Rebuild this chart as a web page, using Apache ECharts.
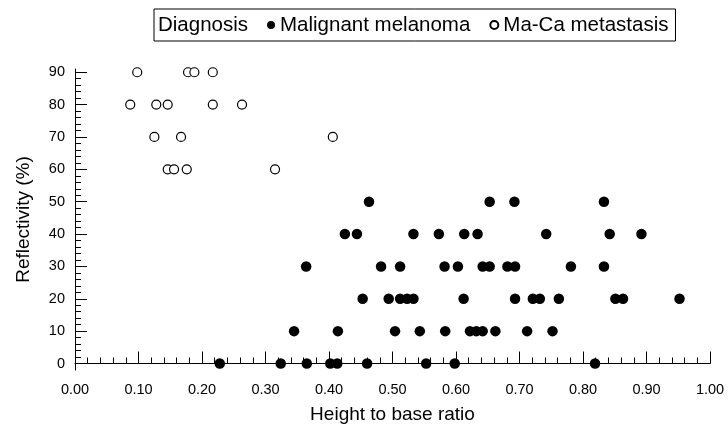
<!DOCTYPE html>
<html>
<head>
<meta charset="utf-8">
<script src="https://cdn.jsdelivr.net/npm/echarts@6/dist/echarts.min.js"></script>
<style>html,body{margin:0;padding:0;background:#fff;}#c{width:728px;height:429px;}</style>
</head>
<body>
<div id="c"></div>
<script>
// Malignant melanoma (filled circles)
const melanomaX = [
  0.463, 0.653, 0.692, 0.833,
  0.425, 0.444, 0.533, 0.573, 0.613, 0.634, 0.742, 0.842, 0.892,
  0.364, 0.482, 0.512, 0.582, 0.603, 0.642, 0.653, 0.681, 0.693, 0.781, 0.833,
  0.453, 0.494, 0.512, 0.523, 0.533, 0.612, 0.693, 0.721, 0.732, 0.762, 0.851, 0.863, 0.952,
  0.345, 0.414, 0.504, 0.543, 0.583, 0.622, 0.632, 0.642, 0.662, 0.712, 0.752,
  0.228, 0.324, 0.365, 0.402, 0.413, 0.460, 0.553, 0.598, 0.819
];
const melanomaY = [
  50, 50, 50, 50,
  40, 40, 40, 40, 40, 40, 40, 40, 40,
  30, 30, 30, 30, 30, 30, 30, 30, 30, 30, 30,
  20, 20, 20, 20, 20, 20, 20, 20, 20, 20, 20, 20, 20,
  10, 10, 10, 10, 10, 10, 10, 10, 10, 10, 10,
  0, 0, 0, 0, 0, 0, 0, 0, 0
];
// Ma-Ca metastasis (open circles)
const metastasisX = [
  0.098, 0.178, 0.188, 0.217,
  0.087, 0.128, 0.146, 0.217, 0.263,
  0.125, 0.167, 0.406,
  0.146, 0.156, 0.176, 0.315
];
const metastasisY = [
  90, 90, 90, 90,
  80, 80, 80, 80, 80,
  70, 70, 70,
  60, 60, 60, 60
];
const yMajorTicks = [0, 10, 20, 30, 40, 50, 60, 70, 80, 90];
const yMinorTicks = [0, 2, 4, 6, 8, 10, 12, 14, 16, 18, 20, 22, 24, 26, 28, 30, 32, 34, 36, 38, 40, 42, 44, 46, 48, 50, 52, 54, 56, 58, 60, 62, 64, 66, 68, 70, 72, 74, 76, 78, 80, 82, 84, 86, 88, 90];
const legendNames = ['Diagnosis', 'Malignant melanoma', 'Ma-Ca metastasis'];

const pairs = (xs, ys) => xs.map((x, i) => [x, ys[i]]);
const FONT = 'Liberation Sans, Arial, sans-serif';

const chart = echarts.init(document.getElementById('c'), null, {renderer: 'canvas'});
chart.setOption({
  animation: false,
  backgroundColor: '#fff',
  textStyle: {fontFamily: FONT, color: '#000'},
  legend: {
    top: 9,
    left: 154,
    borderColor: '#000',
    borderWidth: 1,
    padding: [5, 7, 5, 3],
    itemWidth: 8,
    itemHeight: 8,
    itemGap: 19,
    textStyle: {fontSize: 20.5, color: '#000', fontFamily: FONT, lineHeight: 22},
    data: [
      {name: legendNames[0], itemStyle: {opacity: 0}, textStyle: {padding: [0, 0, 0, -12]}},
      legendNames[1],
      legendNames[2]
    ]
  },
  grid: {left: 75, right: 18, top: 69, bottom: 50},
  xAxis: {
    type: 'value',
    min: 0, max: 1, interval: 0.1,
    name: 'Height to base ratio',
    nameLocation: 'middle',
    nameGap: 35,
    nameTextStyle: {fontSize: 19, color: '#000', fontFamily: FONT},
    axisLine: {show: true, lineStyle: {color: '#000', width: 1}},
    axisTick: {show: true, inside: true, length: 12, lineStyle: {color: '#000'}},
    minorTick: {show: true, splitNumber: 5, length: 6, lineStyle: {color: '#000'}},
    axisLabel: {fontSize: 14.5, color: '#000', margin: 12, formatter: v => v.toFixed(2)},
    splitLine: {show: false}
  },
  yAxis: [{
    type: 'value',
    min: -2, max: 91,
    name: 'Reflectivity (%)',
    nameLocation: 'middle',
    nameGap: 42,
    nameTextStyle: {fontSize: 19, color: '#000', fontFamily: FONT},
    axisLine: {show: true, onZero: false, lineStyle: {color: '#000', width: 1}},
    axisTick: {show: true, inside: true, length: 12, customValues: yMajorTicks, lineStyle: {color: '#000'}},
    axisLabel: {fontSize: 14.5, color: '#000', margin: 10, customValues: yMajorTicks},
    splitLine: {show: false}
  }, {
    type: 'value',
    position: 'left',
    min: -2, max: 91,
    axisLine: {show: false},
    axisTick: {show: true, inside: true, length: 6, customValues: yMinorTicks, lineStyle: {color: '#000'}},
    axisLabel: {show: false},
    splitLine: {show: false}
  }],
  series: [
    {name: legendNames[0], type: 'scatter', data: []},
    {
      name: legendNames[1], type: 'scatter', symbol: 'circle', symbolSize: 10.5,
      itemStyle: {color: '#000', opacity: 1},
      data: pairs(melanomaX, melanomaY)
    },
    {
      name: legendNames[2], type: 'scatter', symbol: 'circle', symbolSize: 9,
      itemStyle: {color: '#fff', borderColor: '#000', borderWidth: 1.2, opacity: 1},
      data: pairs(metastasisX, metastasisY)
    }
  ]
});
</script>
</body>
</html>
